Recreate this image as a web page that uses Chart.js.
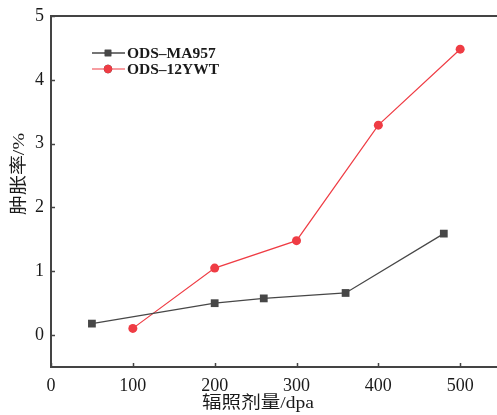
<!DOCTYPE html>
<html>
<head>
<meta charset="utf-8">
<script src="https://cdn.jsdelivr.net/npm/chart.js@4"></script>
<style>
  html, body { margin: 0; padding: 0; background: #fff; overflow: hidden; }
  canvas { display: block; }
</style>
</head>
<body>
<canvas id="c" width="497" height="415"></canvas>
<script>
// Swelling vs irradiation dose for two ODS steels
const doseMA957 = [50, 200, 260, 360, 480];
const swellMA957 = [0.18, 0.50, 0.575, 0.66, 1.59];
const dose12YWT = [100, 200, 300, 400, 500];
const swell12YWT = [0.105, 1.05, 1.48, 3.29, 4.48];
const seriesNames = ['ODS\u2013MA957', 'ODS\u201312YWT'];
const xTicks = [0, 100, 200, 300, 400, 500];
const yTicks = [0, 1, 2, 3, 4, 5];
const xTitle = '辐照剂量/dpa';
const yTitle = '肿胀率/%';

const FONT = '"Liberation Serif", "Noto Sans CJK SC", serif';
const AXIS = '#444';
const GRAY = '#474747';
const RED = '#ef3c44';
const TEXT = '#1a1a1a';

const toPoints = (xs, ys) => xs.map((x, i) => ({ x, y: ys[i] }));

// text drawn centred at (cx, cy), stretched to a given width
function fitText(ctx, str, cx, cy, width) {
  const w = ctx.measureText(str).width;
  ctx.save();
  ctx.translate(cx, cy);
  ctx.scale(width / w, 1);
  ctx.textAlign = 'center';
  ctx.textBaseline = 'middle';
  ctx.fillText(str, 0, 0);
  ctx.restore();
}

// Inward tick marks, top frame line, axis titles and an inset legend
const decor = {
  id: 'decor',
  afterDraw(chart) {
    const { ctx, chartArea: a, scales: { x, y } } = chart;
    ctx.save();
    ctx.strokeStyle = AXIS;
    ctx.lineWidth = 1.5;
    ctx.beginPath();
    xTicks.forEach(v => {
      const px = Math.round(x.getPixelForValue(v)) + 0.5;
      ctx.moveTo(px, a.bottom);
      ctx.lineTo(px, a.bottom - 4);
    });
    yTicks.forEach(v => {
      const py = Math.round(y.getPixelForValue(v)) + 0.5;
      ctx.moveTo(a.left, py);
      ctx.lineTo(a.left + 4, py);
    });
    ctx.stroke();
    // top frame
    ctx.lineWidth = 2;
    ctx.beginPath();
    ctx.moveTo(a.left, a.top);
    ctx.lineTo(a.right, a.top);
    ctx.stroke();

    // axis titles
    ctx.fillStyle = TEXT;
    ctx.font = '17px ' + FONT;
    fitText(ctx, xTitle, 258, 404, 112);
    ctx.save();
    ctx.translate(20, 174);
    ctx.rotate(-Math.PI / 2);
    fitText(ctx, yTitle, 0, 0, 82);
    ctx.restore();

    // legend
    const rows = [53, 69];
    chart.data.datasets.forEach((ds, i) => {
      const ly = rows[i];
      ctx.strokeStyle = ds.borderColor;
      ctx.lineWidth = ds.borderWidth;
      ctx.beginPath();
      ctx.moveTo(92, ly);
      ctx.lineTo(125, ly);
      ctx.stroke();
      Chart.helpers.drawPoint(ctx, {
        pointStyle: ds.pointStyle,
        radius: ds.pointStyle === 'rect' ? 4.6 : 4.2,
        borderWidth: 0,
        rotation: 0
      }, 108, ly);
      ctx.fillStyle = ds.pointBackgroundColor;
      ctx.fill();
      ctx.fillStyle = TEXT;
      ctx.font = 'bold 15.5px ' + FONT;
      ctx.textAlign = 'left';
      ctx.textBaseline = 'middle';
      ctx.fillText(ds.label, 127, ly + 1);
    });
    ctx.restore();
  }
};

new Chart(document.getElementById('c'), {
  type: 'line',
  data: {
    datasets: [
      {
        label: seriesNames[0],
        data: toPoints(doseMA957, swellMA957),
        borderColor: GRAY,
        borderWidth: 1.3,
        pointStyle: 'rect',
        pointRadius: 5.5,
        pointBackgroundColor: GRAY,
        pointBorderWidth: 0,
        tension: 0
      },
      {
        label: seriesNames[1],
        data: toPoints(dose12YWT, swell12YWT),
        borderColor: RED,
        borderWidth: 1.2,
        pointStyle: 'circle',
        pointRadius: 4.5,
        pointBackgroundColor: RED,
        pointBorderWidth: 0,
        tension: 0
      }
    ]
  },
  options: {
    responsive: false,
    animation: false,
    layout: { autoPadding: false, padding: { top: 16, right: 0, left: 0, bottom: 0 } },
    plugins: { legend: { display: false }, tooltip: { enabled: false } },
    scales: {
      x: {
        type: 'linear',
        min: 0,
        max: 545,
        afterBuildTicks: s => { s.ticks = xTicks.map(v => ({ value: v })); },
        afterFit: s => { s.height = 48; s.paddingLeft = 0; s.paddingRight = 0; },
        grid: { display: false, drawTicks: false },
        border: { display: true, color: AXIS, width: 2 },
        ticks: {
          padding: 8,
          color: TEXT,
          font: { family: FONT, size: 18 },
          maxRotation: 0
        }
      },
      y: {
        type: 'linear',
        min: -0.5,
        max: 5,
        afterBuildTicks: s => { s.ticks = yTicks.map(v => ({ value: v })); },
        afterFit: s => { s.width = 51; s.paddingTop = 0; s.paddingBottom = 0; },
        grid: { display: false, drawTicks: false },
        border: { display: true, color: AXIS, width: 2 },
        ticks: {
          padding: 7,
          color: TEXT,
          font: { family: FONT, size: 18 }
        }
      }
    }
  },
  plugins: [decor]
});
</script>
</body>
</html>
